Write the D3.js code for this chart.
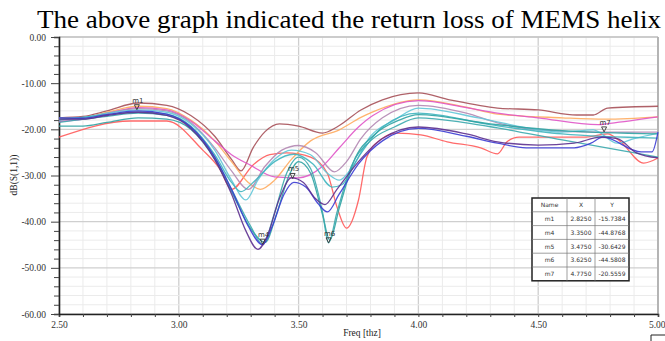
<!DOCTYPE html>
<html>
<head>
<meta charset="utf-8">
<script src="https://cdn.jsdelivr.net/npm/d3@7"></script>
<style>
  body { margin: 0; background: #fff; }
  svg { display: block; }
  text { font-family: "Liberation Serif", "DejaVu Serif", serif; }
</style>
</head>
<body>
<svg id="chart" width="665" height="341"></svg>
<script>
// values: [freq, dB]
const red = [[2.5,-21.7],[2.8,-18.2],[2.95,-18.2],[3.1,-24.5],[3.17,-28.5],[3.22,-33],[3.31,-27.7],[3.38,-25.5],[3.45,-25.1],[3.55,-26],[3.62,-29.5],[3.66,-36.8],[3.7,-41.4],[3.75,-35.3],[3.785,-26],[3.84,-22.3],[3.91,-20.8],[4.01,-21.2],[4.12,-22.7],[4.26,-24],[4.33,-25.3],[4.37,-22.7],[4.42,-21.7],[4.69,-21.7],[4.79,-21],[4.84,-22.5],[4.94,-27.3],[5.0,-26.2]];
const brown = [[2.5,-17.5],[2.6,-17.2],[2.7,-16],[2.83,-14.3],[2.95,-14.8],[3.05,-17],[3.15,-21.5],[3.22,-26.5],[3.26,-29],[3.31,-24],[3.36,-20.5],[3.42,-18.8],[3.5,-19.3],[3.6,-20.8],[3.66,-19.5],[3.76,-15.8],[3.85,-13.6],[4.0,-12.1],[4.13,-13.6],[4.33,-15.4],[4.5,-15.8],[4.66,-16.9],[4.73,-16.9],[4.79,-15.4],[5.0,-15]];
const orange = [[2.5,-17.8],[2.6,-17.5],[2.7,-16.3],[2.83,-15],[2.95,-15.5],[3.05,-18],[3.15,-22.5],[3.22,-27],[3.29,-31.5],[3.34,-33],[3.4,-31],[3.47,-26.5],[3.55,-22.5],[3.67,-20.1],[3.76,-17.4],[3.81,-16.2],[4.0,-13.6],[4.2,-15.2],[4.33,-16.7],[4.6,-17.5],[4.78,-17.8],[5.0,-17.3]];
const magenta = [[2.5,-18.3],[2.6,-17.8],[2.7,-16.6],[2.83,-15.3],[2.95,-15.8],[3.05,-18.2],[3.15,-22.5],[3.22,-25.5],[3.3,-27.8],[3.4,-30.3],[3.5,-30.5],[3.6,-28],[3.67,-24],[3.75,-19.5],[3.81,-17],[4.0,-13.8],[4.2,-15.3],[4.33,-16.5],[4.5,-17.5],[4.75,-19],[4.8,-18.7],[5.0,-17.3]];
const mauve = [[2.5,-18],[2.6,-17.6],[2.7,-16.5],[2.83,-15.5],[2.95,-16],[3.05,-18.5],[3.15,-24],[3.22,-29],[3.29,-33],[3.36,-28],[3.43,-24.5],[3.5,-23.5],[3.57,-25],[3.65,-29.2],[3.7,-27],[3.76,-22],[3.85,-17.5],[4.0,-14.8],[4.2,-16.5],[4.33,-18.6],[4.5,-20.1],[4.75,-20.6],[5.0,-20.6]];
const cyanA = [[2.5,-17.6],[2.6,-17.4],[2.7,-16.5],[2.83,-15.8],[2.95,-16.3],[3.05,-18.8],[3.15,-24.5],[3.22,-31],[3.28,-35.3],[3.33,-31],[3.4,-26.5],[3.47,-24.5],[3.55,-25.5],[3.62,-29.5],[3.67,-31],[3.72,-28.5],[3.8,-21.5],[3.9,-18],[4.0,-15.4],[4.25,-17.5],[4.5,-20.1],[4.6,-20.6],[4.73,-20.1],[4.83,-23],[4.9,-22],[5.0,-20.8]];
const cyanB = [[2.5,-18],[2.7,-16.8],[2.83,-16.2],[2.95,-16.7],[3.05,-19.3],[3.15,-25.5],[3.22,-31.5],[3.26,-33.5],[3.31,-31.5],[3.4,-27],[3.48,-25.4],[3.56,-27.5],[3.64,-32.5],[3.68,-32],[3.75,-26],[3.85,-19.5],[4.0,-16.5],[4.3,-19],[4.6,-21],[5.0,-21.9]];
const teal = [[2.5,-18.5],[2.7,-17.2],[2.83,-16.5],[2.95,-17],[3.05,-19.5],[3.15,-26],[3.22,-33],[3.3,-41],[3.35,-44.9],[3.4,-38],[3.45,-29.5],[3.5,-26],[3.55,-28.5],[3.6,-38],[3.625,-44.6],[3.66,-38],[3.72,-28],[3.8,-22.5],[3.9,-19.5],[4.0,-17.5],[4.2,-18.6],[4.33,-19.7],[4.6,-22.3],[4.88,-24.9],[5.0,-26]];
const tealLow = [[2.5,-19.3],[2.6,-19.3],[2.7,-18.5],[2.83,-17.5],[2.95,-17.8],[3.05,-20],[3.15,-26.5],[3.22,-33.5],[3.3,-41.5],[3.36,-44.5],[3.41,-38],[3.46,-30],[3.5,-27],[3.55,-29.5],[3.6,-38.5],[3.63,-44],[3.67,-37],[3.73,-27],[3.82,-21],[3.92,-18],[4.0,-16.8],[4.3,-18.8],[4.6,-20.3],[5.0,-21]];
const blue = [[2.5,-17.8],[2.6,-17.8],[2.7,-17],[2.83,-16.3],[2.95,-17],[3.05,-19.8],[3.15,-26.5],[3.22,-34],[3.28,-42],[3.33,-46],[3.37,-43],[3.42,-35],[3.47,-30.5],[3.52,-31.5],[3.57,-35],[3.61,-36.3],[3.66,-33],[3.75,-27],[3.85,-22],[4.0,-19.5],[4.2,-21],[4.33,-22.7],[4.5,-23.4],[4.65,-23],[4.76,-21.7],[4.83,-22],[4.91,-25.1],[5.0,-26.2]];
const purple = [[2.5,-17.5],[2.6,-17.6],[2.7,-16.8],[2.83,-16],[2.95,-16.7],[3.05,-19.5],[3.15,-26],[3.22,-33],[3.29,-41],[3.35,-45],[3.39,-41],[3.44,-34],[3.48,-31.5],[3.53,-32.5],[3.58,-36],[3.62,-37.9],[3.67,-34],[3.75,-27.5],[3.85,-22.5],[4.0,-19.8],[4.2,-21.5],[4.33,-23],[4.45,-24],[4.65,-24],[4.72,-23],[4.77,-21.7],[4.93,-24.9],[4.975,-24.9],[5.0,-20.6]];

const seriesColors = ['#ff5a5a', '#a65058', '#ffab5e', '#e055c8', '#b287b2', '#62c6d8', '#3fb5bf', '#2fa3a3', '#3aa8ad', '#3b3bd3', '#5c2f8f'];
const seriesData = [red, brown, orange, magenta, mauve, cyanA, cyanB, tealLow, teal, purple, blue];

const markerNames = ['m1', 'm4', 'm5', 'm6', 'm7'];
const markerX = [2.825, 3.35, 3.475, 3.625, 4.775];
const markerY = [-15.7384, -44.8768, -30.6429, -44.5808, -20.5559];

const xTicks = [2.5, 3.0, 3.5, 4.0, 4.5, 5.0];
const yTicks = [0, -10, -20, -30, -40, -50, -60];

const svg = d3.select('#chart');
const plotL = 59, plotR = 658, plotT = 37, plotB = 314;

const x = d3.scaleLinear().domain([2.5, 5.0]).range([plotL, plotR]);
const y = d3.scaleLinear().domain([0, -60]).range([plotT, plotB]);

// title
svg.append('text')
  .attr('x', 37).attr('y', 28)
  .attr('textLength', 624)
  .attr('lengthAdjust', 'spacingAndGlyphs')
  .style('font-size', '26px')
  .style('fill', '#000')
  .text('The above graph indicated the return loss of MEMS helix');

// grid
const g = svg.append('g');
d3.range(2.5, 5.001, 0.1).forEach(v => {
  const major = Math.abs(v * 2 - Math.round(v * 2)) < 1e-6;
  g.append('line')
    .attr('x1', x(v)).attr('x2', x(v)).attr('y1', plotT).attr('y2', plotB)
    .attr('stroke', major ? '#cfcfcf' : '#ebebeb').attr('stroke-width', major ? 1.3 : 1);
});
d3.range(0, -60.001, -2).forEach(v => {
  const major = Math.abs(v % 10) < 1e-6;
  g.append('line')
    .attr('x1', plotL).attr('x2', plotR).attr('y1', y(v)).attr('y2', y(v))
    .attr('stroke', major ? '#cfcfcf' : '#ebebeb').attr('stroke-width', major ? 1.3 : 1);
});
// top and right frame
g.append('line').attr('x1', plotL).attr('x2', plotR).attr('y1', plotT).attr('y2', plotT)
  .attr('stroke', '#bdbdbd').attr('stroke-width', 1);
g.append('line').attr('x1', plotR).attr('x2', plotR).attr('y1', plotT).attr('y2', plotB)
  .attr('stroke', '#b0b0b0').attr('stroke-width', 1.8);

// axes
const xAxis = d3.axisBottom(x).tickValues(d3.range(2.5, 5.001, 0.1)).tickSize(3)
  .tickFormat(d => xTicks.some(t => Math.abs(t - d) < 1e-6) ? d.toFixed(2) : '');
const ax = svg.append('g').attr('transform', `translate(0,${plotB})`).call(xAxis);
ax.select('.domain').attr('stroke', '#222').attr('stroke-width', 1.6);
ax.selectAll('line').attr('stroke', '#444');
ax.selectAll('text').style('font-size', '9.5px').style('fill', '#333')
  .style('font-family', '"Liberation Serif", serif').attr('dy', '0.85em');
// keep the last label inside the window
ax.selectAll('.tick').filter(d => Math.abs(d - 5.0) < 1e-6)
  .select('text').attr('text-anchor', 'end').attr('x', 7);

const yAxis = d3.axisLeft(y).tickValues(d3.range(0, -60.001, -2)).tickSize(5)
  .tickFormat(d => yTicks.some(t => Math.abs(t - d) < 1e-6) ? d.toFixed(2) : '');
const ay = svg.append('g').attr('transform', `translate(${plotL},0)`).call(yAxis);
ay.select('.domain').attr('stroke', '#222').attr('stroke-width', 1.6);
ay.selectAll('line').attr('stroke', '#444');
ay.selectAll('.tick').filter(d => yTicks.some(t => Math.abs(t - d) < 1e-6))
  .select('line').attr('x2', -8);
ay.selectAll('text').style('font-size', '9.5px').style('fill', '#333')
  .style('font-family', '"Liberation Serif", serif').attr('x', -13);

// axis titles
svg.append('text')
  .attr('transform', 'translate(17,175) rotate(-90)')
  .attr('text-anchor', 'middle')
  .style('font-size', '9.5px').style('fill', '#222')
  .text('dB(S(1,1))');
svg.append('text')
  .attr('x', 362).attr('y', 336)
  .attr('text-anchor', 'middle')
  .style('font-size', '9.5px').style('fill', '#222')
  .text('Freq [thz]');

// curves
const line = d3.line()
  .x(d => x(d[0]))
  .y(d => y(d[1]))
  .curve(d3.curveMonotoneX);

svg.append('g')
  .selectAll('path')
  .data(seriesData)
  .enter()
  .append('path')
  .attr('d', line)
  .attr('fill', 'none')
  .attr('stroke', (d, i) => seriesColors[i])
  .attr('stroke-width', 1.3)
  .attr('stroke-opacity', 0.9);

// markers
const mk = svg.append('g');
markerNames.forEach((name, i) => {
  const px = x(markerX[i]), py = y(markerY[i]);
  mk.append('path')
    .attr('d', `M${px - 2.5},${py - 5}L${px + 2.5},${py - 5}L${px},${py}Z`)
    .attr('fill', 'none').attr('stroke', '#333').attr('stroke-width', 0.9);
  mk.append('text')
    .attr('x', px + 1).attr('y', py - 7)
    .attr('text-anchor', 'middle')
    .style('font-size', '7px').style('fill', '#333')
    .style('font-family', '"DejaVu Sans", sans-serif')
    .text(name);
});

// marker table
const tx = 532, ty = 198, rowH = 13.8;
const colX = [532, 567, 595, 629];
const tbl = svg.append('g');
const rows = [['Name', 'X', 'Y']].concat(markerNames.map((n, i) => [n, markerX[i].toFixed(4), markerY[i].toFixed(4)]));
tbl.append('rect')
  .attr('x', tx).attr('y', ty).attr('width', colX[3] - tx).attr('height', rowH * rows.length)
  .attr('fill', '#fff').attr('stroke', '#222').attr('stroke-width', 1.5);
rows.forEach((r, ri) => {
  if (ri > 0) {
    tbl.append('line').attr('x1', tx).attr('x2', colX[3])
      .attr('y1', ty + ri * rowH).attr('y2', ty + ri * rowH)
      .attr('stroke', '#777').attr('stroke-width', 0.7);
  }
  r.forEach((c, ci) => {
    tbl.append('text')
      .attr('x', (colX[ci] + colX[ci + 1]) / 2)
      .attr('y', ty + ri * rowH + rowH / 2 + 2.2)
      .attr('text-anchor', 'middle')
      .style('font-size', '6px').style('fill', '#333')
      .style('font-family', '"DejaVu Sans", sans-serif')
      .text(c);
  });
});
[colX[1], colX[2]].forEach(cx => {
  tbl.append('line').attr('x1', cx).attr('x2', cx)
    .attr('y1', ty).attr('y2', ty + rowH * rows.length)
    .attr('stroke', '#777').attr('stroke-width', 0.7);
});

// small bracket at corner
svg.append('path')
  .attr('d', 'M651,341L651,335L665,335')
  .attr('fill', 'none').attr('stroke', '#222').attr('stroke-width', 1);
</script>
</body>
</html>
